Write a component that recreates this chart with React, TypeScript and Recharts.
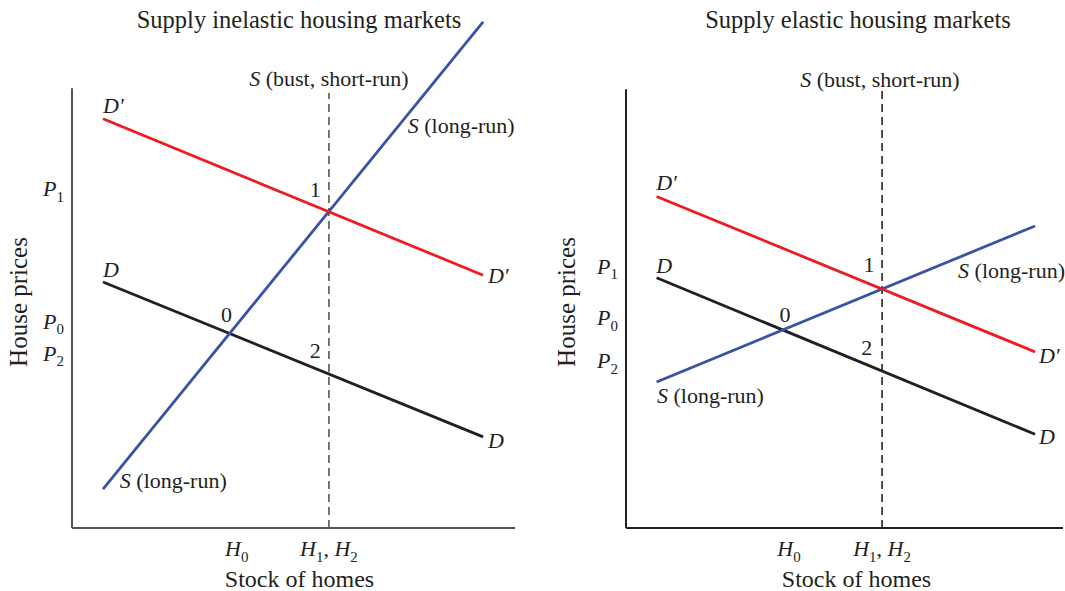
import React from "react";
import { ComposedChart, Line, Scatter, XAxis, YAxis, ReferenceLine, Label } from "recharts";

const FONT = '"Liberation Serif", "Times New Roman", serif';
const INK = "#231f20";
const RED = "#ed1c24";
const BLUE = "#3953a4";

type Part = [string, "i" | "r" | "s"];
type Note = { x: number; y: number; parts: Part[]; anchor: "start" | "middle" };

// ---- supply inelastic housing market (left) ----
const inelasticQ = [7, 92.8]; // stock of homes where the curves start / end
const inelasticDemandShifted = [79, 48.8]; // D'
const inelasticDemand = [47.5, 17.6]; // D
const inelasticSupply = [7.5, 97.7]; // S (long-run)
const inelasticBust = 58; // S (bust, short-run): stock fixed at H1, H2
const inelasticH = [37.2, inelasticBust];
const inelasticP = [65.4, 39.8, 33.6];

// ---- supply elastic housing market (right) ----
const elasticQ = [7, 93.6];
const elasticDemandShifted = [64, 34];
const elasticDemand = [48.3, 18.1];
const elasticSupply = [28.2, 58.3];
const elasticBust = 58.6;
const elasticH = [37.3, elasticBust];
const elasticP = [50.4, 40.5, 32.2];

// tick labels
const pLabels: Part[][] = [
  [["P", "i"], ["1", "s"]],
  [["P", "i"], ["0", "s"]],
  [["P", "i"], ["2", "s"]],
];
const hLabels: Part[][] = [
  [["H", "i"], ["0", "s"]],
  [["H", "i"], ["1", "s"], [", ", "r"], ["H", "i"], ["2", "s"]],
];

const dPrime: Part[] = [["D", "i"], ["\u2032", "i"]];
const dPlain: Part[] = [["D", "i"]];
const sLong: Part[] = [["S", "i"], [" (long-run)", "r"]];
const sBust: Part[] = [["S", "i"], [" (bust, short-run)", "r"]];

const inelasticNotes: Note[] = [
  { x: 7, y: 80.1, parts: dPrime, anchor: "start" },
  { x: 7, y: 48.5, parts: dPlain, anchor: "start" },
  { x: 93.9, y: 47.3, parts: dPrime, anchor: "start" },
  { x: 93.9, y: 15.4, parts: dPlain, anchor: "start" },
  { x: 75.8, y: 76.3, parts: sLong, anchor: "start" },
  { x: 10.8, y: 7.7, parts: sLong, anchor: "start" },
  { x: 58, y: 85.3, parts: sBust, anchor: "middle" },
  { x: 54.9, y: 63.9, parts: [["1", "r"]], anchor: "middle" },
  { x: 34.9, y: 39.8, parts: [["0", "r"]], anchor: "middle" },
  { x: 54.9, y: 32.8, parts: [["2", "r"]], anchor: "middle" },
];

const elasticNotes: Note[] = [
  { x: 6.9, y: 65.3, parts: dPrime, anchor: "start" },
  { x: 6.9, y: 49.2, parts: dPlain, anchor: "start" },
  { x: 94.5, y: 31.9, parts: dPrime, anchor: "start" },
  { x: 94.5, y: 16.2, parts: dPlain, anchor: "start" },
  { x: 76, y: 48.3, parts: sLong, anchor: "start" },
  { x: 7.1, y: 24.1, parts: sLong, anchor: "start" },
  { x: 58.1, y: 85.1, parts: sBust, anchor: "middle" },
  { x: 55.6, y: 49.4, parts: [["1", "r"]], anchor: "middle" },
  { x: 36.4, y: 39.8, parts: [["0", "r"]], anchor: "middle" },
  { x: 55.1, y: 33.4, parts: [["2", "r"]], anchor: "middle" },
];

// italic / roman / subscript pieces of one label
const tspans = (parts: Part[], size: number) => {
  let shift = 0;
  return parts.map(([t, kind], k) => {
    const want = kind === "s" ? size * 0.25 : 0;
    const dy = want - shift;
    shift = want;
    return (
      <tspan
        key={k}
        dy={dy !== 0 ? dy : undefined}
        fontStyle={kind === "i" ? "italic" : "normal"}
        fontSize={kind === "s" ? Math.round(size * 0.68) : size}
      >
        {t}
      </tspan>
    );
  });
};

const pTick = (ticks: number[]) => (props: any) => {
  const i = ticks.indexOf(props.payload.value);
  if (i < 0) return <g />;
  return (
    <text x={props.x} y={props.y + 7} textAnchor="end" fontFamily={FONT} fill={INK}>
      {tspans(pLabels[i], 22)}
    </text>
  );
};

const hTick = (ticks: number[]) => (props: any) => {
  const i = ticks.indexOf(props.payload.value);
  if (i < 0) return <g />;
  return (
    <text x={props.x} y={props.y + 20} textAnchor="middle" fontFamily={FONT} fill={INK}>
      {tspans(hLabels[i], 22)}
    </text>
  );
};

const renderNote = (p: any) => {
  const n = p.payload as Note;
  return (
    <text x={p.cx} y={p.cy} textAnchor={n.anchor} fontFamily={FONT} fill={INK}>
      {tspans(n.parts, 22)}
    </text>
  );
};

type MarketProps = {
  width: number;
  axisWidth: number;
  rightMargin: number;
  q: number[];
  dShift: number[];
  d: number[];
  s: number[];
  bust: number;
  hTicks: number[];
  pTicks: number[];
  axisTop: number;
  bustTop: number;
  notes: Note[];
  axisColor: string;
  xTitleDx: number;
  yTitleX: number;
};

const Market = (m: MarketProps) => {
  const line = (ys: number[]) => m.q.map((x, i) => ({ x, y: ys[i] }));
  return (
    <ComposedChart
      width={m.width}
      height={591}
      margin={{ top: 10, right: m.rightMargin, bottom: 0, left: 0 }}
      style={{ overflow: "visible" }}
    >
      <XAxis
        type="number"
        dataKey="x"
        domain={[0, 100]}
        ticks={m.hTicks}
        interval={0}
        tickLine={false}
        axisLine={{ stroke: m.axisColor, strokeWidth: 2 }}
        height={63}
        tick={hTick(m.hTicks)}
      >
        <Label
          content={(lp: any) => (
            <text
              x={lp.viewBox.x + lp.viewBox.width / 2 + m.xTitleDx}
              y={587}
              textAnchor="middle"
              fontFamily={FONT}
              fontSize={24}
              fill={INK}
            >
              Stock of homes
            </text>
          )}
        />
      </XAxis>
      <YAxis
        type="number"
        dataKey="y"
        domain={[0, 100]}
        ticks={m.pTicks}
        interval={0}
        tickLine={false}
        axisLine={false}
        width={m.axisWidth}
        tick={pTick(m.pTicks)}
      >
        <Label
          content={() => (
            <text
              x={m.yTitleX}
              y={302}
              transform={`rotate(-90, ${m.yTitleX}, 302)`}
              textAnchor="middle"
              fontFamily={FONT}
              fontSize={25}
              fill={INK}
            >
              House prices
            </text>
          )}
        />
      </YAxis>
      <ReferenceLine
        segment={[{ x: 0, y: 0 }, { x: 0, y: m.axisTop }]}
        stroke={m.axisColor}
        strokeWidth={2}
      />
      <ReferenceLine
        segment={[{ x: m.bust, y: 0 }, { x: m.bust, y: m.bustTop }]}
        stroke={m.axisColor}
        strokeWidth={1.6}
        strokeDasharray="8 5"
      />
      <Line data={line(m.d)} dataKey="y" stroke={INK} strokeWidth={2.8} dot={false} activeDot={false} isAnimationActive={false} />
      <Line data={line(m.s)} dataKey="y" stroke={BLUE} strokeWidth={2.8} dot={false} activeDot={false} isAnimationActive={false} />
      <Line data={line(m.dShift)} dataKey="y" stroke={RED} strokeWidth={2.8} dot={false} activeDot={false} isAnimationActive={false} />
      <Scatter data={m.notes} dataKey="y" isAnimationActive={false} shape={renderNote} />
    </ComposedChart>
  );
};

const titleStyle = (center: number): React.CSSProperties => ({
  position: "absolute",
  left: center - 250,
  width: 500,
  top: 7,
  textAlign: "center",
  fontFamily: FONT,
  fontSize: 24.5,
  lineHeight: "25px",
  color: INK,
});

export default function App() {
  return (
    <div style={{ position: "absolute", left: 0, top: 0, width: 1065, height: 591, background: "#fff" }}>
      <div style={titleStyle(299)}>Supply inelastic housing markets</div>
      <div style={titleStyle(858)}>Supply elastic housing markets</div>
      <div style={{ position: "absolute", left: 0, top: 0 }}>
        <Market
          width={532}
          axisWidth={72}
          rightMargin={17}
          q={inelasticQ}
          dShift={inelasticDemandShifted}
          d={inelasticDemand}
          s={inelasticSupply}
          bust={inelasticBust}
          hTicks={inelasticH}
          pTicks={inelasticP}
          axisTop={84.9}
          bustTop={84}
          notes={inelasticNotes}
          axisColor="#555555"
          xTitleDx={6}
          yTitleX={27}
        />
      </div>
      <div style={{ position: "absolute", left: 532, top: 0 }}>
        <Market
          width={533}
          axisWidth={94}
          rightMargin={2}
          q={elasticQ}
          dShift={elasticDemandShifted}
          d={elasticDemand}
          s={elasticSupply}
          bust={elasticBust}
          hTicks={elasticH}
          pTicks={elasticP}
          axisTop={84.7}
          bustTop={84.7}
          notes={elasticNotes}
          axisColor="#222222"
          xTitleDx={12}
          yTitleX={43}
        />
      </div>
    </div>
  );
}
